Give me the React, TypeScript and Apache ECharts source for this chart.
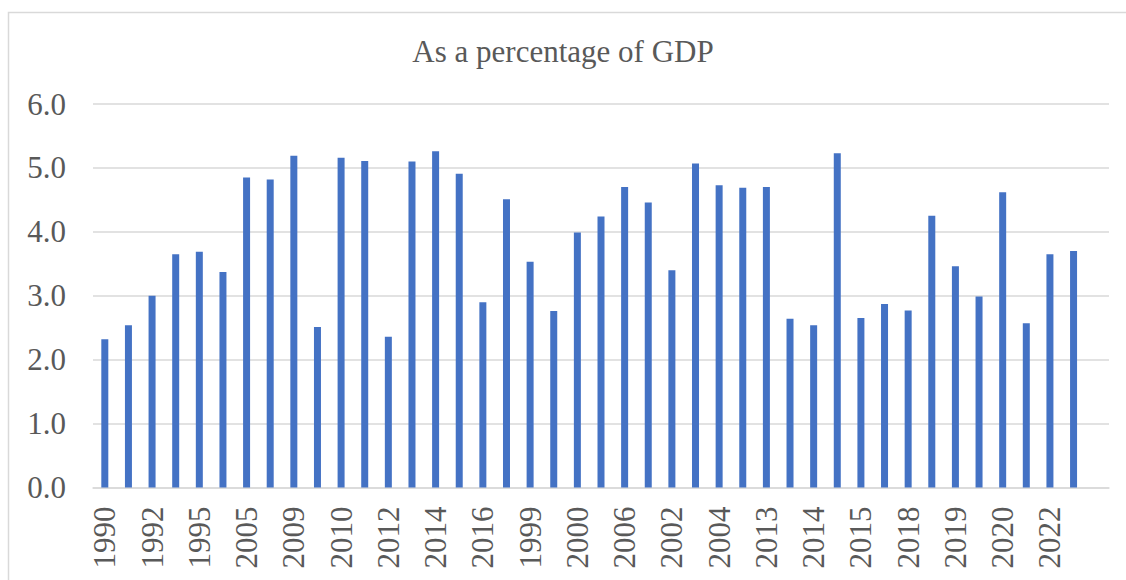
import React, { useEffect, useRef } from "react";
import * as echarts from "echarts";

const categories = [
  "1990", "1991", "1992", "1994", "1995", "1997", "2005", "2007", "2009", "2009",
  "2010", "2011", "2012", "2013", "2014", "2015", "2016", "2017", "1999", "1998",
  "2000", "2001", "2006", "2007", "2002", "2003", "2004", "2008", "2013", "2012",
  "2014", "2011", "2015", "2017", "2018", "2017", "2019", "2021", "2020", "2021",
  "2022", "2023", "",
];

const values: (number | null)[] = [
  2.32, 2.54, 3.0, 3.65, 3.69, 3.37, 4.85, 4.82, 5.19, 2.51,
  5.16, 5.11, 2.36, 5.1, 5.26, 4.91, 2.9, 4.51, 3.53, 2.76,
  3.99, 4.24, 4.7, 4.46, 3.4, 5.07, 4.73, 4.69, 4.7, 2.64,
  2.54, 5.23, 2.65, 2.87, 2.77, 4.25, 3.46, 2.99, 4.62, 2.57,
  3.65, 3.7, null,
];

const yTicks = { min: 0, max: 6, interval: 1 };
const titleText = "As a percentage of GDP";

const FONT = "Liberation Serif";
const TEXT = "#595959";
const GRID = "#d9d9d9";

export default function App() {
  const ref = useRef<HTMLDivElement>(null);
  useEffect(() => {
    if (!ref.current) return;
    const chart = echarts.init(ref.current, null, { renderer: "svg" });
    chart.setOption({
      animation: false,
      backgroundColor: "#ffffff",
      title: {
        text: titleText,
        left: "center",
        top: 31,
        textStyle: { fontFamily: FONT, fontSize: 31, fontWeight: "normal", color: TEXT },
      },
      graphic: [
        {
          type: "rect",
          shape: { x: 8.5, y: 12.5, width: 1140, height: 600 },
          style: { fill: "none", stroke: GRID, lineWidth: 1.5 },
          silent: true,
        },
      ],
      grid: { left: 93, right: 17, top: 104, bottom: 92.5, containLabel: false },
      xAxis: {
        type: "category",
        data: categories,
        boundaryGap: true,
        axisLine: { show: true, lineStyle: { color: GRID, width: 1.5 } },
        axisTick: { show: false },
        axisLabel: {
          interval: 1,
          rotate: 90,
          margin: 19,
          fontFamily: FONT,
          fontSize: 31,
          color: TEXT,
        },
      },
      yAxis: {
        type: "value",
        min: yTicks.min,
        max: yTicks.max,
        interval: yTicks.interval,
        axisLine: { show: false },
        axisTick: { show: false },
        splitLine: { lineStyle: { color: GRID, width: 1.5 } },
        axisLabel: {
          margin: 27,
          fontFamily: FONT,
          fontSize: 31,
          color: TEXT,
          formatter: (v: number) => v.toFixed(1),
        },
      },
      series: [
        {
          type: "bar",
          data: values,
          barWidth: 7,
          itemStyle: { color: "#4472C4" },
        },
      ],
    });
    return () => chart.dispose();
  }, []);
  return (
    <div
      ref={ref}
      style={{ position: "absolute", left: 0, top: 0, width: 1126, height: 580 }}
    />
  );
}
